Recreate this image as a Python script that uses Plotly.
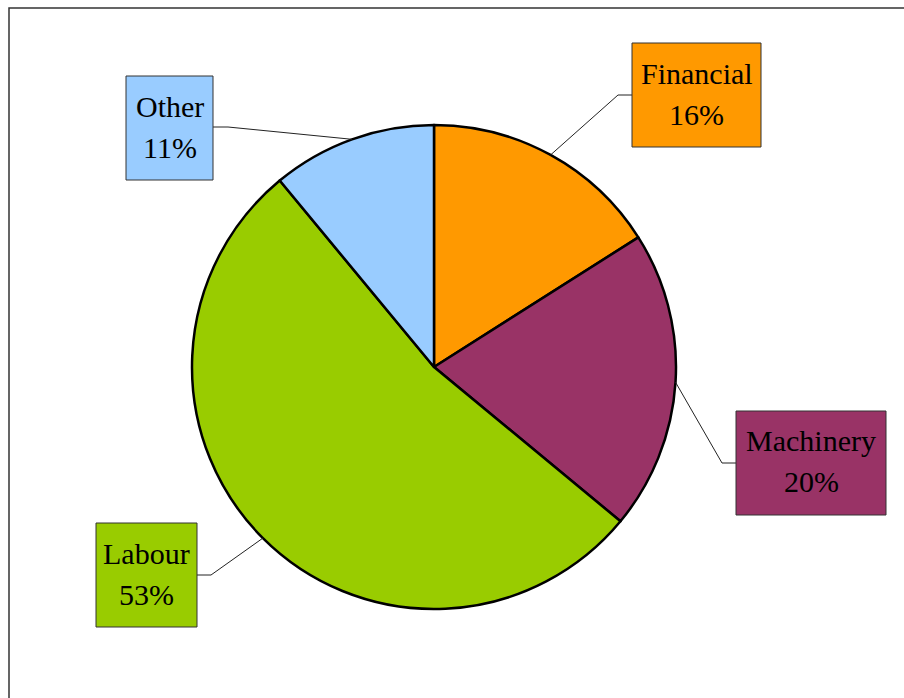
import math
import plotly.graph_objects as go

# Cost breakdown shares (percent), clockwise from 12 o'clock
categories = ["Financial", "Machinery", "Labour", "Other"]
shares = [16, 20, 53, 11]
colors = ["#FF9900", "#993366", "#99CC00", "#99CCFF"]

W, H = 904, 698
CX, CY, R = 434, 367, 242  # pie centre and radius in pixels

# label box geometry (left, top, right, bottom) and elbow point of the leader line
boxes = {
    "Financial": ((632, 43, 761, 147), (618, 95)),
    "Machinery": ((736, 411, 886, 515), (722, 463)),
    "Labour": ((96, 523, 197, 627), (211, 575)),
    "Other": ((126, 76, 213, 180), (228, 127)),
}
LABEL_FONT = dict(family="Liberation Serif", size=30, color="black")


def px(x):
    return x / W


def py(y):
    return 1 - y / H


fig = go.Figure(
    go.Pie(
        labels=categories,
        values=shares,
        marker=dict(colors=colors, line=dict(color="black", width=2.5)),
        sort=False,
        direction="clockwise",
        rotation=0,
        textinfo="none",
        hoverinfo="label+percent",
        showlegend=False,
        domain=dict(x=[px(CX - R), px(CX + R)], y=[py(CY + R), py(CY - R)]),
    )
)

shapes = [
    # outer frame of the chart area
    dict(type="rect", xref="paper", yref="paper",
         x0=px(9), y0=py(8), x1=px(W + 20), y1=py(H + 20),
         line=dict(color="#333333", width=1.5), fillcolor="rgba(0,0,0,0)"),
]
annotations = []

total = sum(shares)
cum = 0
for name, val, col in zip(categories, shares, colors):
    mid = (cum + val / 2) / total * 2 * math.pi
    cum += val
    ex = CX + R * math.sin(mid)
    ey = CY - R * math.cos(mid)
    (l, t, r, b), (kx, ky) = boxes[name]
    bx = r if kx > r else l
    path = f"M {px(ex)} {py(ey)} L {px(kx)} {py(ky)} L {px(bx)} {py(ky)}"
    shapes.append(dict(type="path", xref="paper", yref="paper", path=path,
                       line=dict(color="#222222", width=1)))
    shapes.append(dict(type="rect", xref="paper", yref="paper",
                       x0=px(l), y0=py(b), x1=px(r), y1=py(t),
                       fillcolor=col, line=dict(color="#333333", width=1)))
    cy = (t + b) / 2
    for text, dy in ((name, -22), (f"{val}%", 19)):
        annotations.append(dict(
            x=px((l + r) / 2), y=py(cy + dy), xref="paper", yref="paper",
            text=text, showarrow=False,
            xanchor="center", yanchor="middle", align="center",
            font=LABEL_FONT,
        ))

fig.update_layout(
    width=W, height=H,
    margin=dict(l=0, r=0, t=0, b=0),
    paper_bgcolor="white",
    plot_bgcolor="white",
    shapes=shapes,
    annotations=annotations,
)

fig.write_html("out.html")
